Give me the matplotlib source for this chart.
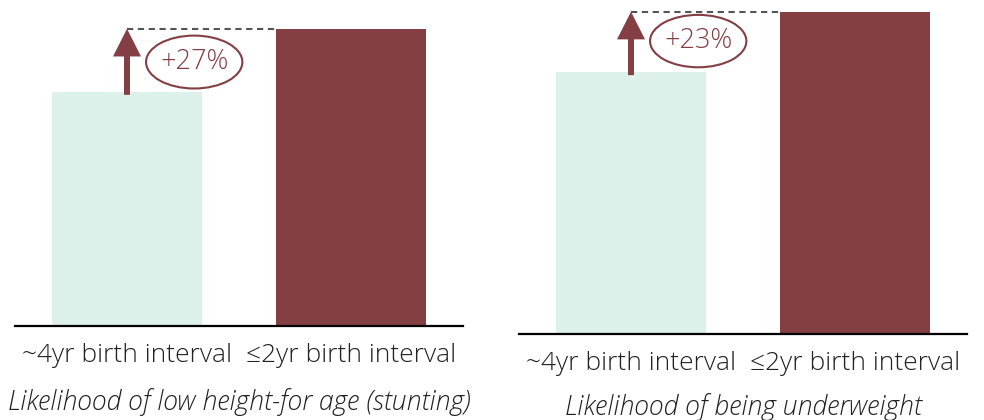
import matplotlib
matplotlib.use("Agg")
import matplotlib.pyplot as plt
from matplotlib.patches import Ellipse

plt.rcParams['font.family'] = ['Open Sans', 'DejaVu Sans']

categories = ["~4yr birth interval", "\u22642yr birth interval"]
panel_titles = ["Likelihood of low height-for age (stunting)", "Likelihood of being underweight"]
stunting = [1.00, 1.27]
underweight = [1.00, 1.23]
change_labels = ["+27%", "+23%"]

LIGHT = "#DDF0EA"
MAROON = "#833F43"
TEXT = "#222222"

W, H = 984, 420
fig = plt.figure(figsize=(W / 100, H / 100), dpi=100)


def make_axes(x0, x1, ybase, px_per_unit):
    ax = fig.add_axes([x0 / W, (H - ybase) / H, (x1 - x0) / W, ybase / H])
    ax.set_xlim(-0.5, 1.5)
    ax.set_ylim(0, ybase / px_per_unit)
    for s in ["top", "left", "right"]:
        ax.spines[s].set_visible(False)
    ax.spines["bottom"].set_linewidth(1.6)
    ax.spines["bottom"].set_color("black")
    ax.set_yticks([])
    ax.set_xticks([])
    ax.patch.set_alpha(0)
    return ax


panels = [
    dict(x0=15, x1=463, ybase=326, ppu=234, vals=stunting, label=change_labels[0],
         ell_y=1.128, ell_h=0.226, title=panel_titles[0], title_y=402),
    dict(x0=519, x1=967, ybase=334, ppu=262, vals=underweight, label=change_labels[1],
         ell_y=1.118, ell_h=0.200, title=panel_titles[1], title_y=407),
]

bw = 0.67
for p in panels:
    ax = make_axes(p["x0"], p["x1"], p["ybase"], p["ppu"])
    vals = p["vals"]
    ax.bar([0, 1], vals, width=bw, color=[LIGHT, MAROON], zorder=2)
    for i, c in enumerate(categories):
        ax.text(i, -29 / p["ybase"], c, transform=ax.get_xaxis_transform(),
                ha="center", va="center", fontsize=19, fontweight="light", color=TEXT)
    # dashed reference line
    ax.plot([0, 1 - bw / 2], [vals[1], vals[1]], ls=(0, (3, 2.2)), color="#555555", lw=1.5, zorder=3)
    # arrow
    ax.annotate("", xy=(0, vals[1]), xytext=(0, vals[0] - 0.012),
                arrowprops=dict(arrowstyle="-|>,head_length=0.65,head_width=0.33",
                                mutation_scale=20, lw=4.3, color=MAROON,
                                joinstyle="miter", capstyle="butt",
                                shrinkA=0, shrinkB=0), zorder=4)
    # ellipse with label
    ax.add_patch(Ellipse((0.30, p["ell_y"]), 0.43, p["ell_h"], fill=False,
                         edgecolor=MAROON, lw=1.5, zorder=4))
    ax.text(0.30, p["ell_y"], p["label"], ha="center", va="center",
            fontsize=19.5, fontweight="light", color=MAROON, zorder=5)
    fig.text((p["x0"] + p["x1"]) / 2 / W, 1 - p["title_y"] / H, p["title"],
             ha="center", va="center", fontsize=19.2, fontweight="light",
             style="italic", color=TEXT)

fig.savefig("out.png", dpi=100)
